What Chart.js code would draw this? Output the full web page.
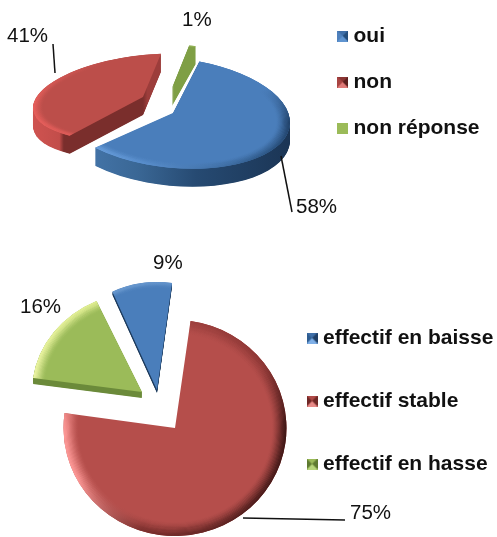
<!DOCTYPE html>
<html><head><meta charset="utf-8">
<style>html,body{margin:0;padding:0;background:#fff;overflow:hidden}
#w{position:relative;width:497px;height:537px}
.c{position:absolute;left:0}
</style>
<script src="https://cdn.jsdelivr.net/npm/chart.js@4"></script></head>
<body><div id="w">
<div class="c" style="top:0;width:497px;height:240px"><canvas id="a"></canvas></div>
<div class="c" style="top:240px;width:497px;height:297px"><canvas id="b"></canvas></div>
</div>
<script>
const answerLabels = ['oui','non','non réponse'];
const answerValues = [58,41,1];
const trendLabels = ['effectif en baisse','effectif stable','effectif en hasse'];
const trendValues = [9,75,16];

const FONT='"Liberation Sans", Arial, sans-serif';
const BASE=100;

function marker(base,top,left,right,bottom){
  const c=document.createElement('canvas');c.width=11;c.height=11;
  const x=c.getContext('2d');
  const tri=(col,p)=>{x.fillStyle=col;x.beginPath();x.moveTo(p[0],p[1]);x.lineTo(p[2],p[3]);x.lineTo(5.5,5.5);x.closePath();x.fill();};
  x.fillStyle=base;x.fillRect(0,0,11,11);
  tri(top,[0,0,11,0]);tri(right,[11,0,11,11]);tri(bottom,[0,11,11,11]);tri(left,[0,0,0,11]);
  return c;
}
function sliceLayer(cfg){return {
  id:'slices',
  afterLayout(chart){
    const l=chart.legend,p=cfg.legend.padding,h=cfg.legend.font;
    l.left=cfg.legend.x-p;l.right=chart.width;l.top=cfg.legend.y-p-h/2;l.bottom=chart.height;
  },
  beforeDatasetsDraw(chart){
    const ctx=chart.ctx,arcs=chart.getDatasetMeta(0).data;
    cfg.order.forEach(i=>{
      const a=arcs[i],t=cfg.slices[i],R=a.outerRadius;
      const place=(dy)=>{ctx.translate(t.x,t.y+dy);ctx.transform(t.sx/R,(t.shear||0)*t.sx/R,0,t.sy/R,0,0);ctx.translate(-a.x,-a.y);};
      const wedge=()=>{ctx.beginPath();ctx.arc(a.x,a.y,R,a.startAngle,a.endAngle);ctx.lineTo(a.x,a.y);ctx.closePath();};
      for(let d=t.depth;d>0;d-=0.5){
        ctx.save();place(d);
        const g=ctx.createLinearGradient(a.x-R,0,a.x+R,0);
        t.wall.forEach(s=>g.addColorStop(s[0],s[1]));
        ctx.fillStyle=g;wedge();ctx.fill();ctx.restore();
      }
      ctx.save();place(0);a.draw(ctx);
      ctx.save();wedge();ctx.clip();
      const cg=ctx.createConicGradient(0,a.x,a.y);
      t.rim.forEach(s=>cg.addColorStop(s[0],s[1]));
      ctx.strokeStyle=cg;ctx.lineWidth=1.6;
      const w=t.rimWidth*R/t.sx;
      for(let r=0;r<w;r+=1){
        ctx.globalAlpha=Math.pow(1-r/w,1.6);
        ctx.beginPath();ctx.arc(a.x,a.y,R-r,a.startAngle,a.endAngle);ctx.stroke();
      }
      ctx.restore();ctx.restore();
    });
    return false;
  },
  afterDraw(chart){
    const ctx=chart.ctx,vals=chart.data.datasets[0].data;
    ctx.save();
    ctx.fillStyle='#111';ctx.font='20.5px '+FONT;ctx.textBaseline='middle';ctx.textAlign='left';
    cfg.labels.forEach((l,i)=>ctx.fillText(vals[i]+'%',l.x,l.y));
    ctx.strokeStyle='#111';ctx.lineWidth=1.5;
    cfg.leaders.forEach(s=>{ctx.beginPath();ctx.moveTo(s[0],s[1]);ctx.lineTo(s[2],s[3]);ctx.stroke();});
    ctx.restore();
  }
};}
function pie(id,labels,values,colors,marks,rotation,cfg){
  return new Chart(document.getElementById(id),{
    type:'pie',
    data:{labels,datasets:[{data:values,backgroundColor:colors,borderWidth:0,radius:BASE}]},
    plugins:[sliceLayer(cfg)],
    options:{responsive:true,maintainAspectRatio:false,animation:false,rotation,
      layout:{padding:0},
      plugins:{tooltip:{enabled:false},
        legend:{position:'right',align:'start',labels:{
          font:{family:FONT,size:cfg.legend.font,weight:'bold'},color:'#111',
          padding:cfg.legend.padding,boxWidth:1,boxHeight:11,usePointStyle:true,
          generateLabels:()=>labels.map((t,i)=>({text:t,fillStyle:colors[i],strokeStyle:'transparent',lineWidth:0,pointStyle:marks[i],index:i,fontColor:'#111'}))
        }}}}
  });
}
pie('a',answerLabels,answerValues,['#4a7ebb','#bc4e4a','#7f9f45'],[
  marker('#4f81bd','#3f6fa8','#4f81bd','#234d7c','#5f94d0'),
  marker('#b04a47','#8a3533','#a84442','#5c1f1e','#e07a78'),
  marker('#9bbb59','#9bbb59','#9bbb59','#9bbb59','#9bbb59')
],13,{
  order:[2,1,0],
  legend:{x:342,y:36,padding:25,font:21},
  slices:[
    {x:173,y:113,sx:117,sy:55,shear:0.08,depth:18,rimWidth:14,
     wall:[[0,'#4a7db5'],[0.35,'#3a6795'],[0.6,'#264a72'],[1,'#1b3555']],
     rim:[[0,'#1f3f66'],[0.12,'#2f5a8a'],[0.3,'#5d93d2'],[0.42,'#79aeea'],[0.6,'#4a7ebb'],[0.9,'#4a7ebb'],[1,'#1f3f66']]},
    {x:143,y:97,sx:110,sy:42,shear:-0.1,depth:18,rimWidth:10,
     wall:[[0,'#cf5350'],[0.12,'#c24d4a'],[0.14,'#7a2e2c'],[0.5,'#7a2e2c'],[0.52,'#9c3d3b'],[1,'#9c3d3b']],
     rim:[[0,'#bc4e4a'],[0.4,'#e85f5c'],[0.52,'#e8605c'],[0.7,'#bc4e4a'],[1,'#bc4e4a']]},
    {x:172,y:88,sx:105,sy:43,depth:18,rimWidth:4,
     wall:[[0,'#7f9f45'],[1,'#7f9f45']],
     rim:[[0,'#9bbb59'],[1,'#9bbb59']]}
  ],
  labels:[{x:296,y:207},{x:7,y:36},{x:182,y:20}],
  leaders:[[281,156,292,212],[53,44,55,73]]
});
pie('b',trendLabels,trendValues,['#4a7ebb','#b54e4b','#9bbb59'],[
  marker('#4f81bd','#3f6fa8','#2d5c90','#1f3f66','#7fb0e8'),
  marker('#b04a47','#b04a47','#6e2725','#6e2725','#e88a88'),
  marker('#9bbb59','#9bbb59','#5e7a30','#5e7a30','#b7d67a')
],-24.4,{
  order:[2,0,1],
  legend:{x:311.5,y:98,padding:42,font:21},
  slices:[
    {x:157,y:150,sx:108,sy:108,depth:3,rimWidth:6,
     wall:[[0,'#1c3a5c'],[1,'#1c3a5c']],
     rim:[[0,'#4a7ebb'],[0.7,'#6b9ad0'],[1,'#4a7ebb']]},
    {x:175,y:188,sx:111.5,sy:108,depth:0,rimWidth:15,
     wall:[[0,'#7a2e2c'],[1,'#7a2e2c']],
     rim:[[0,'#3a1514'],[0.12,'#4a1b1a'],[0.3,'#7a2e2c'],[0.42,'#ff9a98'],[0.5,'#ff9a98'],[0.6,'#b54e4b'],[0.9,'#8a3533'],[1,'#3a1514']]},
    {x:142,y:152,sx:110,sy:100,depth:6,rimWidth:12,
     wall:[[0,'#6b8a3a'],[1,'#6b8a3a']],
     rim:[[0,'#9bbb59'],[0.5,'#f0f7a8'],[0.7,'#e0ee90'],[1,'#9bbb59']]}
  ],
  labels:[{x:153,y:23},{x:350,y:273},{x:20,y:67}],
  leaders:[[243,278,345,280]]
});
</script></body></html>
